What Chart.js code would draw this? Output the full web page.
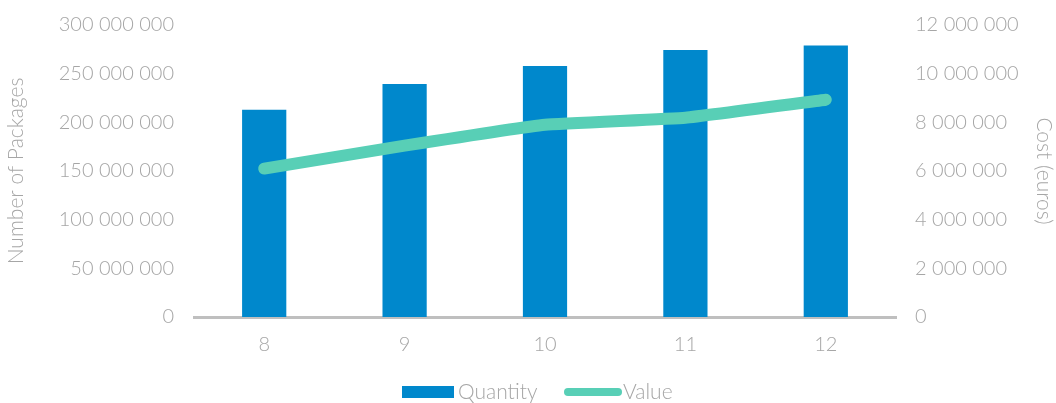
<!DOCTYPE html>
<html>
<head>
<meta charset="utf-8">
<script src="https://cdn.jsdelivr.net/npm/chart.js@4.4.0/dist/chart.umd.min.js"></script>
<style>
  html, body { margin: 0; padding: 0; background: #fff; overflow: hidden; }
  #wrap { width: 1056px; height: 403px; position: relative; overflow: hidden; }
  #chart { position: absolute; left: 0; top: -7px; }
</style>
</head>
<body>
<div id="wrap"><canvas id="chart" width="1056" height="410"></canvas></div>
<script>
// chart data
const months = ['8', '9', '10', '11', '12'];
const quantity = [213000000, 239500000, 258000000, 274300000, 279000000];
const value = [6100000, 7040000, 7900000, 8190000, 8930000];

const leftTicks = [0, 50000000, 100000000, 150000000, 200000000, 250000000, 300000000];
const rightTicks = [0, 2000000, 4000000, 6000000, 8000000, 10000000, 12000000];

const BLUE = '#0088cc';
const TEAL = '#58cfb6';
const GREY = '#a6a6a6';
const FONT = 'Lato, "Open Sans", sans-serif';

function spaced(v) {
    return String(v).replace(/\B(?=(\d{3})+(?!\d))/g, ' ');
}

// simple legend drawn under the x axis (canvas sits 7px above the page)
const legendPlugin = {
    id: 'bottomLegend',
    afterDraw(chart) {
        const ctx = chart.ctx;
        const y = 399;
        ctx.save();
        ctx.fillStyle = BLUE;
        ctx.fillRect(402, y - 6, 52, 12);
        ctx.strokeStyle = TEAL;
        ctx.lineWidth = 8;
        ctx.lineCap = 'round';
        ctx.beginPath();
        ctx.moveTo(568, y);
        ctx.lineTo(618, y);
        ctx.stroke();
        ctx.fillStyle = GREY;
        ctx.font = '300 21px ' + FONT;
        ctx.textBaseline = 'middle';
        ctx.fillText('Quantity', 458, y);
        ctx.fillText('Value', 623, y);
        ctx.restore();
    }
};

new Chart(document.getElementById('chart'), {
    data: {
        labels: months,
        datasets: [{
            type: 'line',
            label: 'Value',
            data: value,
            yAxisID: 'y1',
            borderColor: TEAL,
            borderWidth: 12,
            borderCapStyle: 'round',
            borderJoinStyle: 'round',
            pointRadius: 0,
            tension: 0.1,
            order: 0
        }, {
            type: 'bar',
            label: 'Quantity',
            data: quantity,
            yAxisID: 'y',
            backgroundColor: BLUE,
            barPercentage: 0.315,
            categoryPercentage: 1,
            order: 1
        }]
    },
    options: {
        responsive: false,
        animation: false,
        layout: { padding: { top: 6, left: 0, right: 0, bottom: 0 } },
        plugins: {
            legend: { display: false },
            tooltip: { enabled: false }
        },
        scales: {
            x: {
                grid: { display: false, drawTicks: false },
                border: { color: '#bfbfbf', width: 3 },
                ticks: { color: GREY, font: { family: FONT, size: 20, weight: 300 }, padding: 16 },
                afterFit: (s) => { s.height = 86; }
            },
            y: {
                position: 'left',
                min: 0,
                max: 300000000,
                afterBuildTicks: (s) => { s.ticks = leftTicks.map(v => ({ value: v })); },
                grid: { display: false, drawTicks: false },
                border: { display: false },
                ticks: {
                    color: GREY,
                    font: { family: FONT, size: 20, weight: 300 },
                    padding: 20,
                    callback: (v) => spaced(v)
                },
                title: {
                    display: true,
                    text: 'Number of Packages',
                    color: GREY,
                    font: { family: FONT, size: 21, weight: 300 },
                    padding: { top: 4, bottom: 0 }
                },
                afterFit: (s) => { s.width = 194; }
            },
            y1: {
                position: 'right',
                min: 0,
                max: 12000000,
                afterBuildTicks: (s) => { s.ticks = rightTicks.map(v => ({ value: v })); },
                grid: { display: false, drawTicks: false },
                border: { display: false },
                ticks: {
                    color: GREY,
                    font: { family: FONT, size: 20, weight: 300 },
                    padding: 19,
                    callback: (v) => spaced(v)
                },
                title: {
                    display: true,
                    text: 'Cost (euros)',
                    color: GREY,
                    font: { family: FONT, size: 21, weight: 300 },
                    padding: { top: 0, bottom: 2 }
                },
                afterFit: (s) => { s.width = 160; }
            }
        }
    },
    plugins: [legendPlugin]
});
</script>
</body>
</html>
